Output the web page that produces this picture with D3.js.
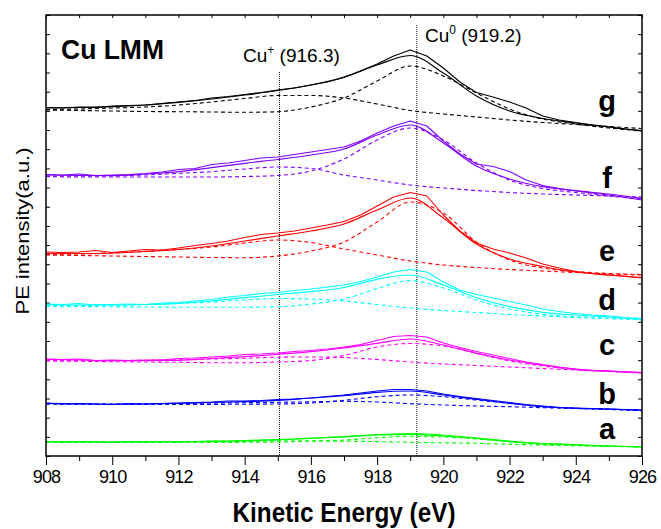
<!DOCTYPE html>
<html>
<head>
<meta charset="utf-8">
<script src="https://cdn.jsdelivr.net/npm/d3@7"></script>
<style>
  body { margin: 0; background: #fff; }
  svg { display: block; }
  text { font-family: Arial, "Liberation Sans", sans-serif; fill: #000; }
</style>
</head>
<body>
<svg width="661" height="529"></svg>
<script>
// energy grids (eV)
const energy = [908, 909, 910, 911, 912, 913, 914, 915, 916, 917, 918, 919, 920, 921, 922, 923, 924, 925, 926];
const energyMeas = [908, 908.5, 909, 909.5, 910, 910.5, 911, 911.5, 912, 912.5, 913, 913.5, 914, 914.5, 915, 915.5,
  916, 916.5, 917, 917.5, 918, 918.5, 919, 919.5, 920, 920.5, 921, 921.5, 922, 922.5, 923, 923.5, 924, 924.5,
  925, 925.5, 926];
const xMajor = [908, 910, 912, 914, 916, 918, 920, 922, 924, 926];
const xMinor = [909, 911, 913, 915, 917, 919, 921, 923, 925];
const sampleNames = ["a", "b", "c", "d", "e", "f", "g"];

// peak positions marked on the chart
const cuPlusPos = 915.05;
const cuZeroPos = 919.2;

// intensities (a.u., curves stacked with offset)
const measA = [14.5, 14, 14.5, 14, 13.5, 14.5, 14, 14.5, 14, 14.5, 15, 15, 15.5, 16, 16.5, 17, 18, 18.5, 19.5, 20.5, 21.5, 22, 22.5, 22, 21, 19.5, 18, 16.5, 15, 13.5, 12.5, 12, 11.5, 10.5, 10, 9.5, 9];
const fitA = [14.3, 14.2, 14, 14.2, 14.3, 14.6, 15, 16.2, 17.5, 19.2, 21, 21.7, 20, 17.7, 14.3, 12.3, 11, 10, 9];
const cuPlusA = [13.7, 13.8, 14, 14.2, 14.4, 14.6, 14.8, 15, 15, 14.8, 14.4, 13.7, 13.2, 12.7, 11.7, 11, 10.3, 9.8, 9.3];
const cuZeroA = [13.7, 13.6, 13.5, 13.5, 13.5, 13.6, 13.7, 14, 15, 16, 18.3, 19.7, 19, 17, 14.3, 11.7, 10.5, 9.7, 9];

const measB = [53, 52, 52.5, 52, 51.5, 52.5, 52, 52.5, 53, 53.5, 54, 55, 55, 55.5, 56.5, 57, 58, 59.5, 61, 63, 65, 66.5, 66.5, 65, 62, 59.5, 57.5, 55.5, 53.5, 51.5, 50, 48.5, 48, 47.5, 47, 46.5, 46];
const fitB = [52.7, 52.2, 51.7, 52, 52.7, 53.5, 54.3, 55.7, 58, 60.3, 63.7, 65, 61, 56.7, 52.7, 49.3, 47.7, 47, 45.7];
const cuPlusB = [52, 52, 52, 52.2, 52.5, 53, 53.3, 53.7, 54.2, 54.7, 54, 52.3, 51, 50, 49.3, 48.3, 47.5, 46.7, 46];
const cuZeroB = [52, 51.8, 51.6, 51.5, 51.5, 51.6, 51.8, 52, 53, 55.7, 59.3, 61, 59.3, 56, 52.7, 49.3, 47.7, 46.5, 45.3];

const measC = [97, 96.5, 97, 95.5, 96, 95.5, 96, 96, 97.5, 98, 99, 100, 101.5, 102, 103, 104.5, 105.5, 107, 109, 111.5, 115.5, 119.5, 120.5, 119, 113, 108.5, 104.5, 101, 97.5, 94, 91.5, 89, 87, 85.5, 85, 84, 83.5];
const fitC = [96.7, 96, 95.3, 95.5, 95.7, 97.5, 99.3, 101.7, 104.3, 108, 112.7, 117, 111, 102.7, 96, 91, 86.7, 85, 83.3];
const cuPlusC = [95.7, 95.5, 95.5, 95.7, 96.2, 97, 97.7, 98.8, 99, 98.5, 96.5, 94, 92, 90.5, 89, 87.5, 86, 84.7, 83.3];
const cuZeroC = [95, 94.7, 94.3, 94, 93.7, 93.3, 93.3, 94, 95.5, 100.5, 109, 112.5, 110, 103, 95, 90, 86.5, 84.5, 83];

const measD = [152, 151.5, 152.5, 151, 151.5, 152, 151.5, 153, 153.5, 155, 156.5, 159, 160.5, 162.5, 163.5, 165.5, 167, 169, 171, 174.5, 179, 184, 186.5, 184, 174, 166, 161.5, 158, 154.5, 151, 147, 144.5, 142.5, 141, 140, 138.5, 137.5];
const fitD = [151.5, 151, 151, 151.5, 152.7, 155, 158.3, 161.5, 164.3, 168.5, 176.7, 181, 171, 158.3, 149.3, 143.7, 141, 139, 136.7];
const cuPlusD = [150.5, 150.5, 151, 151.5, 152.5, 154, 156, 157.5, 157, 155, 151.5, 148, 145.5, 143.5, 141.5, 140, 138.5, 137.5, 136.5];
const cuZeroD = [149.7, 149.5, 149.2, 149, 148.8, 148.7, 148.8, 149.3, 152, 157, 167.5, 175.5, 168, 156, 147, 141.7, 139.3, 137.7, 136];

const measE = [204, 203.5, 204, 205.5, 203.5, 205, 206.5, 206, 208, 210.5, 212.5, 215, 218.5, 221.5, 223, 225, 228, 231, 234.5, 241, 250, 259, 263.5, 260, 241, 225, 213, 207, 203, 198, 192, 188, 184.5, 182.5, 181, 179.5, 178];
const fitE = [202.5, 202.5, 203, 204.5, 206.5, 210, 215, 220, 225, 232, 246, 258, 238, 212, 197, 189.5, 184, 181, 178.5];
const cuPlusE = [201.5, 202, 203, 204.5, 206.5, 209, 213, 216, 213.5, 207, 201, 195, 191, 188.5, 186.5, 185, 183.5, 182, 181];
const cuZeroE = [201, 200.5, 200, 199.5, 199, 198.5, 198.3, 200, 205, 214, 234, 254, 243, 214, 196, 188, 184.5, 182.5, 181.5];

const measF = [281.5, 281, 282, 280.5, 281, 281.5, 282.5, 284, 286.5, 287.5, 291.5, 293, 295.5, 298, 299, 301.5, 304, 306.5, 309, 315, 323, 330, 335, 330, 315, 302, 292, 289.5, 284.5, 276, 270.5, 267.5, 265, 263, 261, 258.5, 256];
const fitF = [281, 280.5, 280.3, 282, 284.3, 288.3, 292.7, 296.5, 301, 307, 321, 331, 313, 290, 277, 269.3, 265.3, 262, 257.7];
const cuPlusF = [280, 280, 280.3, 281, 282.7, 284.3, 287, 289, 287.5, 281, 276, 271, 268, 265.5, 263.5, 262, 261, 260, 259];
const cuZeroF = [279.5, 279, 279, 279, 279, 279, 279.5, 280.5, 285, 297, 316, 328, 316, 293, 276, 267.5, 263.5, 260, 257];

const measG = [348.5, 348, 349, 348.5, 350, 350.5, 351, 352.5, 354, 355.5, 358, 359.5, 361.5, 363.5, 366, 368, 371, 374, 378.5, 385, 392, 400, 406, 400, 388, 374, 363.5, 359, 354, 348, 340, 336, 333.5, 331, 329, 327, 325.5];
const fitG = [348, 348.5, 349.3, 351, 353.7, 357, 361, 365.5, 371, 379, 391, 400.5, 383, 360, 345, 337.5, 333, 329, 325];
const cuPlusG = [346.5, 347, 348, 349, 351, 354, 357.5, 360.5, 360.5, 358, 352, 345.5, 342, 339, 336, 333.5, 331.5, 329.5, 327.5];
const cuZeroG = [346, 345.5, 345, 344.5, 344.3, 344, 343.7, 344.3, 349, 358, 375, 390, 380, 363, 347, 337, 332, 328, 325];

const samples = [
  {name: "a", meas: measA, fit: fitA, cuPlus: cuPlusA, cuZero: cuZeroA},
  {name: "b", meas: measB, fit: fitB, cuPlus: cuPlusB, cuZero: cuZeroB},
  {name: "c", meas: measC, fit: fitC, cuPlus: cuPlusC, cuZero: cuZeroC},
  {name: "d", meas: measD, fit: fitD, cuPlus: cuPlusD, cuZero: cuZeroD},
  {name: "e", meas: measE, fit: fitE, cuPlus: cuPlusE, cuZero: cuZeroE},
  {name: "f", meas: measF, fit: fitF, cuPlus: cuPlusF, cuZero: cuZeroF},
  {name: "g", meas: measG, fit: fitG, cuPlus: cuPlusG, cuZero: cuZeroG}
];

// styling / layout
const colors = {a: "#00ff00", b: "#0000ff", c: "#ff00ff", d: "#00ffff", e: "#ff0000", f: "#8000ff", g: "#000000"};
const letterY = {a: 439, b: 404, c: 355, d: 310, e: 261, f: 188, g: 111};

const svg = d3.select("svg"),
      margin = {top: 15, right: 19, bottom: 73, left: 46},
      width = +svg.attr("width") - margin.left - margin.right,
      height = +svg.attr("height") - margin.top - margin.bottom,
      g = svg.append("g").attr("transform", "translate(" + margin.left + "," + margin.top + ")");

const x = d3.scaleLinear().domain([908, 926]).range([0, width]);
const y = d3.scaleLinear().domain([0, 441]).range([height, 0]);
const yTicks = d3.range(0, 24).map(i => i * 441 / 23);

// axes
const axisB = g.append("g").attr("transform", "translate(0," + height + ")")
  .call(d3.axisBottom(x).tickValues(xMajor).tickSize(9).tickPadding(5).tickFormat(d3.format("d")));
g.append("g").attr("transform", "translate(0," + height + ")")
  .call(d3.axisBottom(x).tickValues(xMinor).tickSize(5).tickFormat(""));
g.append("g").call(d3.axisTop(x).tickValues(xMajor.concat(xMinor)).tickSize(-3).tickFormat(""));
g.append("g").call(d3.axisLeft(y).tickValues(yTicks).tickSize(-4).tickFormat(""));
g.append("g").attr("transform", "translate(" + width + ",0)")
  .call(d3.axisRight(y).tickValues(yTicks).tickSize(-4).tickFormat(""));
g.selectAll(".domain").remove();
g.selectAll(".tick line").attr("stroke", "#000").attr("stroke-width", 1);
axisB.selectAll("text").attr("font-size", 18).attr("letter-spacing", -0.8)
  .attr("font-family", "Arial, 'Liberation Sans', sans-serif");

// reference lines at peak positions
g.append("line").attr("x1", x(cuPlusPos)).attr("x2", x(cuPlusPos)).attr("y1", 57).attr("y2", height)
  .attr("stroke", "#000").attr("stroke-width", 1).attr("stroke-dasharray", "1,1");
g.append("line").attr("x1", x(cuZeroPos)).attr("x2", x(cuZeroPos)).attr("y1", 10).attr("y2", height)
  .attr("stroke", "#000").attr("stroke-width", 1).attr("stroke-dasharray", "1,1");

const smooth = d3.line().x((d, i) => x(energy[i])).y(d => y(d)).curve(d3.curveMonotoneX);
const raw = d3.line().x((d, i) => x(energyMeas[i])).y(d => y(d));

samples.forEach(s => {
  const c = colors[s.name];
  const grp = g.append("g");
  [s.cuPlus, s.cuZero].forEach(arr => {
    grp.append("path").attr("d", smooth(arr)).attr("fill", "none").attr("stroke", c)
      .attr("stroke-width", 1.1).attr("stroke-dasharray", "4,3");
  });
  grp.append("path").attr("d", smooth(s.fit)).attr("fill", "none").attr("stroke", c).attr("stroke-width", 1.2);
  grp.append("path").attr("d", raw(s.meas)).attr("fill", "none").attr("stroke", c).attr("stroke-width", 1.1)
    .attr("stroke-linejoin", "round");
  g.append("text").attr("x", 561).attr("y", letterY[s.name] - margin.top)
    .attr("text-anchor", "middle").attr("font-size", 29).attr("font-weight", "bold").text(s.name);
});

// frame
g.append("rect").attr("width", width).attr("height", height)
  .attr("fill", "none").attr("stroke", "#000").attr("stroke-width", 1.5);

// annotations
svg.append("text").attr("x", 61).attr("y", 59).attr("font-size", 28).attr("font-weight", "bold")
  .attr("textLength", 103).attr("lengthAdjust", "spacingAndGlyphs").text("Cu LMM");

const t1 = svg.append("text").attr("x", 243).attr("y", 62).attr("font-size", 19);
t1.append("tspan").text("Cu");
t1.append("tspan").attr("font-size", 12).attr("dy", -8).text("+");
t1.append("tspan").attr("dy", 8).text(" (916.3)");

const t2 = svg.append("text").attr("x", 425).attr("y", 42).attr("font-size", 19);
t2.append("tspan").text("Cu");
t2.append("tspan").attr("font-size", 12).attr("dy", -8).text("0");
t2.append("tspan").attr("dy", 8).text(" (919.2)");

// axis titles
svg.append("text").attr("x", 344).attr("y", 522).attr("text-anchor", "middle")
  .attr("font-size", 27).attr("font-weight", "bold")
  .attr("textLength", 223).attr("lengthAdjust", "spacingAndGlyphs").text("Kinetic Energy (eV)");
svg.append("text").attr("transform", "translate(29,231) rotate(-90)").attr("text-anchor", "middle")
  .attr("font-size", 19).attr("textLength", 167).attr("lengthAdjust", "spacingAndGlyphs")
  .text("PE intensity(a.u.)");
</script>
</body>
</html>
